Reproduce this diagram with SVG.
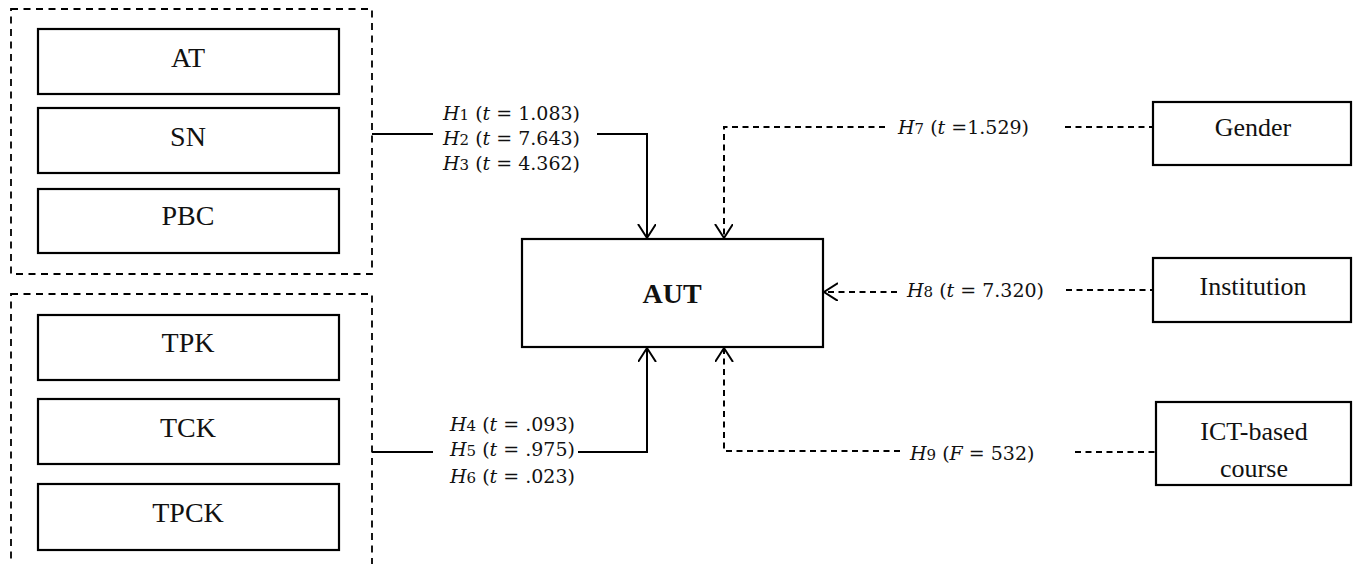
<svg xmlns="http://www.w3.org/2000/svg" width="1353" height="564" viewBox="0 0 1353 564">
<style>
.grp{fill:none;stroke:#000;stroke-width:1.8;stroke-dasharray:7 5.5}
.box{fill:#fff;stroke:#000;stroke-width:2.2}
.lbl{font-family:"Liberation Serif",serif;font-size:28px;fill:#111;text-anchor:middle}
.lblr{font-family:"Liberation Serif",serif;font-size:26px;fill:#111;text-anchor:middle}
.bold{font-weight:bold}
.h{font-family:"DejaVu Serif",serif;font-size:19px;fill:#111}
.sub{font-size:15px}
.it{font-style:italic}
.sol{fill:none;stroke:#000;stroke-width:2}
.dsh{fill:none;stroke:#000;stroke-width:2;stroke-dasharray:6 4.5}
</style>
<defs>
<marker id="arr" markerUnits="userSpaceOnUse" markerWidth="24" markerHeight="24" refX="14" refY="9" orient="auto">
<path d="M0,0 L14,9 L0,18" fill="none" stroke="#000" stroke-width="2"/>
</marker>
</defs>

<g id="group-tpb">
<rect class="grp" x="11" y="9" width="361" height="265"/>
</g>
<g id="group-tpack">
<rect class="grp" x="11" y="294" width="361" height="290"/>
</g>

<g id="node-AT"><rect class="box" x="38" y="29" width="301" height="65"/><text class="lbl" x="188" y="67">AT</text></g>
<g id="node-SN"><rect class="box" x="38" y="108" width="301" height="65"/><text class="lbl" x="188" y="146">SN</text></g>
<g id="node-PBC"><rect class="box" x="38" y="189" width="301" height="64"/><text class="lbl" x="188" y="225">PBC</text></g>
<g id="node-TPK"><rect class="box" x="38" y="315" width="301" height="65"/><text class="lbl" x="188" y="352">TPK</text></g>
<g id="node-TCK"><rect class="box" x="38" y="399" width="301" height="65"/><text class="lbl" x="188" y="437">TCK</text></g>
<g id="node-TPCK"><rect class="box" x="38" y="484" width="301" height="66"/><text class="lbl" x="188" y="522">TPCK</text></g>

<g id="node-AUT"><rect class="box" x="522" y="239" width="301" height="108"/><text class="lbl bold" x="672" y="303">AUT</text></g>

<g id="node-Gender"><rect class="box" x="1153" y="102" width="198" height="63"/><text class="lblr" x="1253" y="136">Gender</text></g>
<g id="node-Institution"><rect class="box" x="1153" y="258" width="198" height="64"/><text class="lblr" x="1253" y="295">Institution</text></g>
<g id="node-ICT"><rect class="box" x="1156" y="402" width="195" height="83"/><text class="lblr" x="1254" y="440">ICT-based</text><text class="lblr" x="1254" y="477">course</text></g>

<g id="connectors">
<path class="sol" d="M372,134 H433"/>
<path class="sol" d="M597,134 H647 V238" marker-end="url(#arr)"/>
<path class="sol" d="M372,452 H433"/>
<path class="sol" d="M578,452 H647 V348" marker-end="url(#arr)"/>
<path class="dsh" d="M885,127 H724 V238" marker-end="url(#arr)"/>
<path class="dsh" d="M1065,127 H1153"/>
<path class="dsh" d="M897,292 H824" marker-end="url(#arr)"/>
<path class="dsh" d="M1066,290 H1153"/>
<path class="dsh" d="M900,451 H724 V348" marker-end="url(#arr)"/>
<path class="dsh" d="M1075,452 H1156"/>
</g>

<g id="labels">
<text class="h" x="443" y="120"><tspan class="it">H</tspan><tspan class="sub">1</tspan> (<tspan class="it">t</tspan> = 1.083)</text>
<text class="h" x="443" y="145"><tspan class="it">H</tspan><tspan class="sub">2</tspan> (<tspan class="it">t</tspan> = 7.643)</text>
<text class="h" x="443" y="170"><tspan class="it">H</tspan><tspan class="sub">3</tspan> (<tspan class="it">t</tspan> = 4.362)</text>
<text class="h" x="450" y="431"><tspan class="it">H</tspan><tspan class="sub">4</tspan> (<tspan class="it">t</tspan> = .093)</text>
<text class="h" x="450" y="456"><tspan class="it">H</tspan><tspan class="sub">5</tspan> (<tspan class="it">t</tspan> = .975)</text>
<text class="h" x="450" y="483"><tspan class="it">H</tspan><tspan class="sub">6</tspan> (<tspan class="it">t</tspan> = .023)</text>
<text class="h" x="898" y="134"><tspan class="it">H</tspan><tspan class="sub">7</tspan> (<tspan class="it">t</tspan> =1.529)</text>
<text class="h" x="907" y="297"><tspan class="it">H</tspan><tspan class="sub">8</tspan> (<tspan class="it">t</tspan> = 7.320)</text>
<text class="h" x="910" y="460"><tspan class="it">H</tspan><tspan class="sub">9</tspan> (<tspan class="it">F</tspan> = 532)</text>
</g>
</svg>
